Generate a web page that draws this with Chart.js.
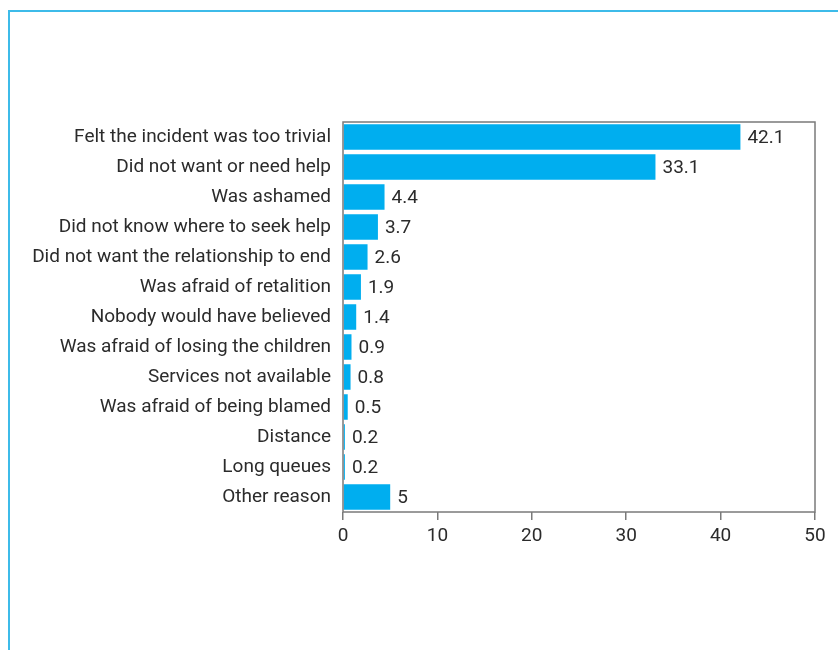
<!DOCTYPE html>
<html>
<head>
<meta charset="utf-8">
<script src="https://cdn.jsdelivr.net/npm/chart.js"></script>
<style>
  html, body { margin: 0; padding: 0; background: #fff; overflow: hidden; }
  #frame {
    position: absolute; left: 8px; top: 10px; width: 900px; height: 700px;
    border-top: 2px solid #3dbbe9; border-left: 2px solid #3dbbe9;
  }
  #wrap { position: absolute; left: 0; top: 0; width: 838px; height: 650px; }
</style>
</head>
<body>
<div id="frame"></div>
<div id="wrap"><canvas id="reasons"></canvas></div>
<script>
const reasons = [
  'Felt the incident was too trivial',
  'Did not want or need help',
  'Was ashamed',
  'Did not know where to seek help',
  'Did not want the relationship to end',
  'Was afraid of retalition',
  'Nobody would have believed',
  'Was afraid of losing the children',
  'Services not available',
  'Was afraid of being blamed',
  'Distance',
  'Long queues',
  'Other reason'
];
const percents = [42.1, 33.1, 4.4, 3.7, 2.6, 1.9, 1.4, 0.9, 0.8, 0.5, 0.2, 0.2, 5];
const xTicks = [0, 10, 20, 30, 40, 50];

const FONT = '"Liberation Sans Narrow", "Roboto", sans-serif';
const INK = '#2b2b2b';
const AXIS = '#7a7a7a';

// box around the plotting area
const plotBox = {
  id: 'plotBox',
  afterDraw(chart) {
    const { ctx, chartArea: a } = chart;
    ctx.save();
    ctx.strokeStyle = AXIS;
    ctx.lineWidth = 1.5;
    ctx.strokeRect(a.left, a.top, a.right - a.left, a.bottom - a.top);
    ctx.restore();
  }
};

// value printed just past the end of each bar
const barValues = {
  id: 'barValues',
  afterDatasetsDraw(chart) {
    const { ctx } = chart;
    const meta = chart.getDatasetMeta(0);
    ctx.save();
    ctx.font = '19px ' + FONT;
    ctx.fillStyle = INK;
    ctx.textAlign = 'left';
    ctx.textBaseline = 'middle';
    meta.data.forEach((bar, i) => {
      ctx.fillText(String(percents[i]), bar.x + 7, bar.y + 1);
    });
    ctx.restore();
  }
};

new Chart(document.getElementById('reasons'), {
  type: 'bar',
  data: {
    labels: reasons,
    datasets: [{
      data: percents,
      backgroundColor: '#00aeef',
      borderWidth: 0,
      barPercentage: 0.85,
      categoryPercentage: 1
    }]
  },
  options: {
    indexAxis: 'y',
    responsive: true,
    maintainAspectRatio: false,
    animation: false,
    layout: { padding: { top: 122, right: 23, bottom: 0, left: 0 } },
    plugins: { legend: { display: false }, tooltip: { enabled: false } },
    scales: {
      x: {
        min: 0, max: 50,
        afterBuildTicks(scale) { scale.ticks = xTicks.map(v => ({ value: v })); },
        afterFit(scale) { scale.height = 138; },
        grid: { drawOnChartArea: false, drawTicks: true, tickLength: 8, color: AXIS, lineWidth: 1.5 },
        border: { display: false },
        ticks: { color: INK, font: { family: FONT, size: 19 }, padding: 5, maxRotation: 0 }
      },
      y: {
        afterFit(scale) { scale.width = 343; },
        grid: { display: false, drawTicks: false },
        border: { display: false },
        ticks: { color: INK, font: { family: FONT, size: 19 }, padding: 12, autoSkip: false }
      }
    }
  },
  plugins: [plotBox, barValues]
});
</script>
</body>
</html>
